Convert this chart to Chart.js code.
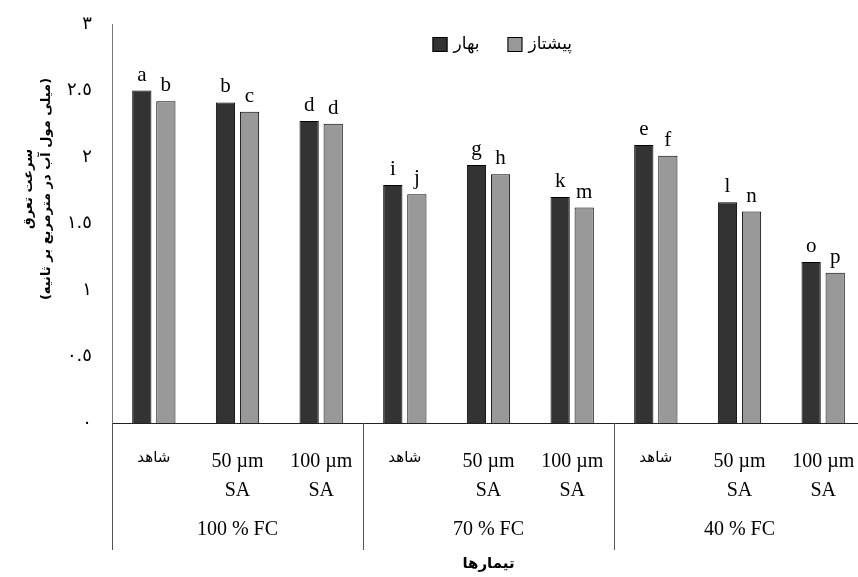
<!DOCTYPE html>
<html>
<head>
<meta charset="utf-8">
<script src="https://cdn.jsdelivr.net/npm/chart.js@4"></script>
<style>
  html, body { margin: 0; padding: 0; background: #ffffff; overflow: hidden; }
  #wrap { width: 858px; height: 577px; overflow: hidden; }
  canvas { display: block; }
</style>
</head>
<body>
<div id="wrap"><canvas id="chart" width="866" height="577"></canvas></div>
<script>
// Treatments: three salicylic-acid levels inside each irrigation level
const categories = [
  ['شاهد'], ['50 µm', 'SA'], ['100 µm', 'SA'],
  ['شاهد'], ['50 µm', 'SA'], ['100 µm', 'SA'],
  ['شاهد'], ['50 µm', 'SA'], ['100 µm', 'SA']
];
const groups = ['100 % FC', '70 % FC', '40 % FC'];
const seriesNames = ['بهار', 'پیشتاز'];

// Transpiration rate (mmol H2O m^-2 s^-1)
const baharValues    = [2.50, 2.41, 2.27, 1.79, 1.94, 1.70, 2.09, 1.66, 1.21];
const pishtazValues  = [2.42, 2.34, 2.25, 1.72, 1.87, 1.62, 2.01, 1.59, 1.13];

// Mean-comparison letters
const baharLetters   = ['a', 'b', 'd', 'i', 'g', 'k', 'e', 'l', 'o'];
const pishtazLetters = ['b', 'c', 'd', 'j', 'h', 'm', 'f', 'n', 'p'];

// Y axis ticks and their Arabic-Indic labels
const yTickValues = [0, 0.5, 1, 1.5, 2, 2.5, 3];
const yTickLabels = ['٠', '٠.٥', '١', '١.٥', '٢', '٢.٥', '٣'];

const yTitleLines = ['سرعت تعرق', '(میلی مول آب در مترمربع بر ثانیه)'];
const xTitle = 'تیمارها';

const SERIF = "'Liberation Serif', 'Times New Roman', serif";
const ARABIC = "'DejaVu Sans', sans-serif";

// Letters above each bar
const letterPlugin = {
  id: 'letters',
  afterDatasetsDraw(chart) {
    const ctx = chart.ctx;
    const sets = [baharLetters, pishtazLetters];
    ctx.save();
    ctx.fillStyle = '#000';
    ctx.font = '21px ' + SERIF;
    ctx.textAlign = 'center';
    ctx.textBaseline = 'alphabetic';
    sets.forEach((letters, di) => {
      const meta = chart.getDatasetMeta(di);
      meta.data.forEach((bar, i) => {
        ctx.fillText(letters[i], bar.x, bar.y - 10);
      });
    });
    ctx.restore();
  }
};

// Legend row, group separators, group names and the rotated y title
const framePlugin = {
  id: 'frame',
  afterDraw(chart) {
    const ctx = chart.ctx;
    const xs = chart.scales.x;
    const area = chart.chartArea;
    const step = xs.getPixelForValue(1) - xs.getPixelForValue(0);
    ctx.save();

    // legend: swatch then name, for each series
    ctx.font = '17px ' + ARABIC;
    ctx.textBaseline = 'middle';
    ctx.textAlign = 'left';
    let lx = (area.left + area.right) / 2 - 56;
    const ly = 37;
    chart.data.datasets.forEach((ds) => {
      ctx.fillStyle = ds.backgroundColor;
      ctx.fillRect(lx, ly, 15, 15);
      ctx.strokeStyle = '#000';
      ctx.lineWidth = 1;
      ctx.strokeRect(lx + 0.5, ly + 0.5, 14, 14);
      ctx.fillStyle = '#000';
      const tw = ctx.measureText(ds.label).width;
      ctx.fillText(ds.label, lx + 21, ly + 8);
      lx += 21 + tw + 28;
    });

    ctx.strokeStyle = '#555';
    ctx.lineWidth = 1;
    for (let g = 0; g <= groups.length; g++) {
      const px = Math.round(xs.getPixelForValue(g * 3) - step / 2) + 0.5;
      ctx.beginPath();
      ctx.moveTo(px, area.bottom);
      ctx.lineTo(px, 550);
      ctx.stroke();
    }
    ctx.fillStyle = '#000';
    ctx.font = '20px ' + SERIF;
    ctx.textAlign = 'center';
    ctx.textBaseline = 'middle';
    groups.forEach((name, g) => {
      const cx = xs.getPixelForValue(g * 3 + 1);
      ctx.fillText(name, cx, 530);
    });

    ctx.font = 'bold 13px ' + ARABIC;
    ctx.translate(38, 189);
    ctx.rotate(-Math.PI / 2);
    ctx.fillText(yTitleLines[0], 0, -9);
    ctx.fillText(yTitleLines[1], 0, 9);
    ctx.restore();
  }
};

new Chart(document.getElementById('chart'), {
  type: 'bar',
  data: {
    labels: categories,
    datasets: [
      {
        label: seriesNames[0],
        data: baharValues,
        backgroundColor: '#333333',
        borderColor: '#000000',
        borderWidth: 1,
        categoryPercentage: 0.575,
        barPercentage: 0.8
      },
      {
        label: seriesNames[1],
        data: pishtazValues,
        backgroundColor: '#999999',
        borderColor: '#000000',
        borderWidth: 1,
        categoryPercentage: 0.575,
        barPercentage: 0.8
      }
    ]
  },
  options: {
    responsive: false,
    animation: false,
    devicePixelRatio: 1,
    layout: { padding: { top: 24, right: 1, left: 0, bottom: 0 } },
    plugins: {
      tooltip: { enabled: false },
      legend: { display: false }
    },
    scales: {
      x: {
        afterFit(s) { s.height = 154; s.paddingLeft = 0; s.paddingRight = 0; },
        grid: { display: false, drawTicks: false },
        border: { display: true, color: '#222', width: 1 },
        ticks: {
          autoSkip: false,
          maxRotation: 0,
          minRotation: 0,
          padding: 24,
          color: '#000',
          font(ctx) {
            const isArabic = ctx.index % 3 === 0;
            return isArabic
              ? { family: ARABIC, size: 15, lineHeight: 1.45 }
              : { family: SERIF, size: 20, lineHeight: 1.45 };
          }
        },
        title: {
          display: true,
          text: xTitle,
          color: '#000',
          font: { family: ARABIC, size: 15, weight: 'bold' },
          padding: { top: 0, bottom: 4 }
        }
      },
      y: {
        min: 0,
        max: 3,
        afterFit(s) { s.width = 112; s.paddingTop = 0; s.paddingBottom = 0; },
        afterBuildTicks(s) { s.ticks = yTickValues.map(v => ({ value: v })); },
        grid: { display: false, drawTicks: false },
        border: { display: true, color: '#777', width: 1 },
        ticks: {
          padding: 20,
          color: '#000',
          font: { family: ARABIC, size: 18 },
          callback(value) {
            const i = yTickValues.indexOf(value);
            return i >= 0 ? yTickLabels[i] : '';
          }
        }
      }
    }
  },
  plugins: [letterPlugin, framePlugin]
});
</script>
</body>
</html>
